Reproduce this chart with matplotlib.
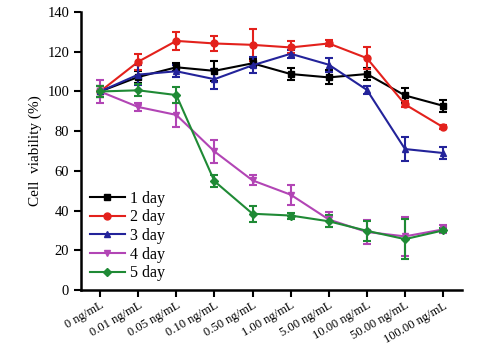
import matplotlib
matplotlib.use("Agg")
import matplotlib.pyplot as plt
from matplotlib.lines import Line2D
import numpy as np

doses = ["0 ng/mL", "0.01 ng/mL", "0.05 ng/mL", "0.10 ng/mL", "0.50 ng/mL",
         "1.00 ng/mL", "5.00 ng/mL", "10.00 ng/mL", "50.00 ng/mL", "100.00 ng/mL"]

day1 = [100, 107.3, 112.2, 110.4, 114.2, 108.8, 107.1, 108.8, 98.0, 92.8]
day1_err = [3, 3, 2, 5, 2, 3, 3.5, 3, 4, 3]
day2 = [100, 115, 125.5, 124.2, 123.5, 122.2, 124.2, 116.8, 93.5, 82.0]
day2_err = [3, 4, 4.5, 4, 8, 3, 1.5, 5.5, 1.5, 1]
day3 = [100, 108.5, 110.2, 106.2, 113.2, 119.0, 113.5, 100.8, 71.0, 69.0]
day3_err = [3, 5, 3, 5, 4, 2, 3.5, 2, 6, 3]
day4 = [100, 92.2, 88.2, 69.8, 55.2, 48.0, 35.5, 29.2, 27.0, 30.5]
day4_err = [6, 2, 6, 6, 2.5, 5, 4, 6, 10, 2]
day5 = [100, 100.6, 98.2, 54.8, 38.4, 37.5, 34.6, 29.8, 25.6, 30.0]
day5_err = [3, 3, 4, 3, 4, 1.5, 3, 5, 10, 1]

series = [
    ("1 day", day1, day1_err, "#000000", "s"),
    ("2 day", day2, day2_err, "#e3211c", "o"),
    ("3 day", day3, day3_err, "#23239a", "^"),
    ("4 day", day4, day4_err, "#b245b5", "v"),
    ("5 day", day5, day5_err, "#1f8a35", "D"),
]

plt.rcParams["font.family"] = ["Liberation Serif", "DejaVu Serif"]

fig = plt.figure(figsize=(4.85, 3.46), dpi=100)
ax = fig.add_axes([0.167, 0.162, 0.786, 0.803])

x = np.arange(len(doses))
handles = []
for label, vals, err, color, marker in series:
    ms = 5 if marker != "D" else 4
    ax.errorbar(
        x, vals, yerr=err,
        color=color, marker=marker, markersize=ms,
        linewidth=1.5, elinewidth=1.5, capsize=3, capthick=1.5,
    )
    handles.append(Line2D([], [], color=color, marker=marker,
                          markersize=ms, linewidth=1.5, label=label))

ax.set_xlim(-0.5, 9.5)
ax.set_ylim(0, 140)
ax.set_yticks(np.arange(0, 141, 20))
ax.set_xticks(x)
ax.set_xticklabels(doses, rotation=30, ha="right", rotation_mode="anchor", fontsize=9)
ax.tick_params(axis="y", labelsize=10.5, width=1.5, length=5)
ax.tick_params(axis="x", width=1.5, length=5, pad=2)
ax.set_ylabel("Cell  viability (%)", fontsize=11)

for side in ["top", "right"]:
    ax.spines[side].set_visible(False)
for side in ["left", "bottom"]:
    ax.spines[side].set_linewidth(1.8)

ax.legend(
    handles=handles,
    loc="lower left",
    bbox_to_anchor=(-0.015, -0.02),
    frameon=False,
    fontsize=11.5,
    handlelength=2.2,
    labelspacing=0.16,
    handletextpad=0.3,
)

plt.savefig("out.png", dpi=100)
plt.close()
